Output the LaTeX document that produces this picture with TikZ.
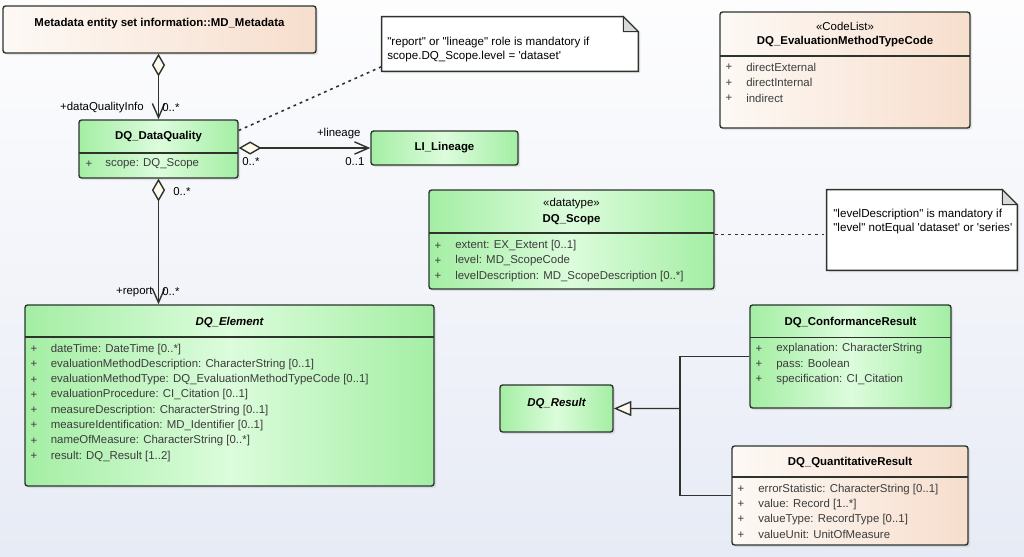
\documentclass[tikz,border=0pt]{standalone}
\usepackage{fontspec}
\setmainfont{Liberation Sans}
\usetikzlibrary{arrows.meta,fit,shadows,calc}

\definecolor{grnA}{HTML}{A4EEA4}
\definecolor{grnB}{HTML}{DCFCDC}
\definecolor{pchA}{HTML}{FDF9F5}
\definecolor{pchB}{HTML}{F7DECD}
\definecolor{bgtop}{HTML}{FDFDFE}
\definecolor{bgbot}{HTML}{E7EBF5}
\definecolor{edge}{HTML}{2C342C}
\definecolor{attrtext}{HTML}{3C3C3C}
\definecolor{cream}{HTML}{FFF9EE}
\definecolor{foldgray}{HTML}{D9D9D9}

\tikzset{
  every node/.style={font=\fontsize{6.5}{8}\selectfont},
  box/.style={draw=edge, line width=0.8pt, rounded corners=1.5pt, inner sep=0pt,
    drop shadow={opacity=0.18, shadow xshift=1.2pt, shadow yshift=-1.2pt}},
  greenbox/.style={box, left color=grnA, right color=grnA, middle color=grnB},
  peachbox/.style={box, left color=pchA, right color=pchB},
  ctitle/.style={inner sep=0pt, font=\fontsize{6.5}{8}\selectfont\bfseries},
  atitle/.style={inner sep=0pt, font=\fontsize{6.5}{8}\selectfont\bfseries\itshape},
  stereo/.style={inner sep=0pt},
  plus/.style={inner sep=0pt, text=attrtext},
  attr/.style={anchor=west, inner sep=0pt, text=attrtext},
  divider/.style={draw=edge, line width=0.8pt},
  role/.style={inner sep=0pt},
  assoc/.style={draw=edge, line width=0.8pt,
    {Diamond[fill=cream, length=13pt, width=7.5pt]}-{Straight Barb[length=8pt, width=7pt]}},
  genline/.style={draw=edge, line width=0.8pt},
  notelink/.style={draw=edge, line width=0.9pt, dash pattern=on 1.6pt off 2.2pt},
  notebox/.style={inner sep=0pt},
  noteshape/.style={draw=edge, line width=0.8pt, fill=white,
    drop shadow={opacity=0.15, shadow xshift=1.2pt, shadow yshift=-1.2pt}},
  notetext/.style={anchor=west, align=left, inner sep=0pt,
    font=\fontsize{6.6}{7.9}\selectfont}
}

\begin{document}
\begin{tikzpicture}[x=0.02cm, y=-0.02cm]
  \useasboundingbox (0,0) rectangle (1024,556);
  \fill[top color=bgtop, bottom color=bgbot] (0,0) rectangle (1024,556);

  \node[peachbox, fit={(3,6) (316,53)}] (meta) {};
  \node[ctitle] (meta-title) at (159.5,24) {Metadata entity set information::MD\_Metadata};

  \node[greenbox, fit={(79,120) (238,178)}] (dq) {};
  \node[ctitle] (dq-title) at (158.5,137) {DQ\_DataQuality};
  \draw[divider] (79,153) -- (238,153);
  \node[plus] (dq-p1) at (89,164) {+};
  \node[attr] (dq-a1) at (105,164) {scope: DQ\_Scope};

  \node[greenbox, fit={(371,131) (518,165)}] (lin) {};
  \node[ctitle] (lin-title) at (lin.center) {LI\_Lineage};

  \node[peachbox, fit={(720,12) (970,128)}] (code) {};
  \node[stereo] (code-st) at (845,26) {«CodeList»};
  \node[ctitle] (code-title) at (845,41.5) {DQ\_EvaluationMethodTypeCode};
  \draw[divider] (720,56) -- (970,56);
  \foreach \txt [count=\i] in {directExternal, directInternal, indirect}{
    \node[plus] (code-p\i) at (729,51.8+15.5*\i) {+};
    \node[attr] (code-a\i) at (746,51.8+15.5*\i) {\txt};
  }

  \node[greenbox, fit={(429,190) (714,289)}] (scope) {};
  \node[stereo] (scope-st) at (571.5,204) {«datatype»};
  \node[ctitle] (scope-title) at (571.5,219.5) {DQ\_Scope};
  \draw[divider] (429,233) -- (714,233);
  \foreach \txt [count=\i] in {extent: EX\_Extent [0..1], level: MD\_ScopeCode,
      levelDescription: MD\_ScopeDescription [0..*]}{
    \node[plus] (scope-p\i) at (438,230.5+15.2*\i) {+};
    \node[attr] (scope-a\i) at (455,230.5+15.2*\i) {\txt};
  }

  \node[greenbox, fit={(25,305) (434,486)}] (elem) {};
  \node[atitle] (elem-title) at (229.5,322.5) {DQ\_Element};
  \draw[divider] (25,337) -- (434,337);
  \foreach \txt [count=\i] in {dateTime: DateTime [0..*],
      evaluationMethodDescription: CharacterString [0..1],
      evaluationMethodType: DQ\_EvaluationMethodTypeCode [0..1],
      evaluationProcedure: CI\_Citation [0..1],
      measureDescription: CharacterString [0..1],
      measureIdentification: MD\_Identifier [0..1],
      nameOfMeasure: CharacterString [0..*],
      result: DQ\_Result [1..2]}{
    \node[plus] (elem-p\i) at (34,333.8+15.3*\i) {+};
    \node[attr] (elem-a\i) at (50.5,333.8+15.3*\i) {\txt};
  }

  \node[greenbox, fit={(500,385) (613,432)}] (res) {};
  \node[atitle] (res-title) at (556.5,403.5) {DQ\_Result};

  \node[greenbox, fit={(750,305) (951,408)}] (conf) {};
  \node[ctitle] (conf-title) at (850.5,322.5) {DQ\_ConformanceResult};
  \draw[divider] (750,337.5) -- (951,337.5);
  \foreach \txt [count=\i] in {explanation: CharacterString, pass: Boolean,
      specification: CI\_Citation}{
    \node[plus] (conf-p\i) at (759,333.8+15.2*\i) {+};
    \node[attr] (conf-a\i) at (776,333.8+15.2*\i) {\txt};
  }

  \node[peachbox, fit={(732,446) (968,545)}] (quant) {};
  \node[ctitle] (quant-title) at (850,462.5) {DQ\_QuantitativeResult};
  \draw[divider] (732,477) -- (968,477);
  \foreach \txt [count=\i] in {errorStatistic: CharacterString [0..1],
      value: Record [1..*], valueType: RecordType [0..1], valueUnit: UnitOfMeasure}{
    \node[plus] (quant-p\i) at (741,473.9+15.2*\i) {+};
    \node[attr] (quant-a\i) at (758,473.9+15.2*\i) {\txt};
  }

  \node[notebox, fit={(382,17) (638,71)}] (note1) {};
  \filldraw[noteshape] (note1.south west) -- (note1.north west)
    -- ($(note1.north east)+(-15,0)$) -- ($(note1.north east)+(0,15)$)
    -- (note1.south east) -- cycle;
  \filldraw[draw=edge, line width=0.6pt, fill=foldgray] ($(note1.north east)+(-15,0)$)
    -- ($(note1.north east)+(-15,15)$) -- ($(note1.north east)+(0,15)$) -- cycle;
  \node[notetext] (note1-text) at (387,49.5)
    {\textquotedbl report\textquotedbl\ or \textquotedbl lineage\textquotedbl\ role is mandatory if\\
     scope.DQ\_Scope.level = \textquotesingle dataset\textquotesingle};

  \node[notebox, fit={(827,190) (1017,270)}] (note2) {};
  \filldraw[noteshape] (note2.south west) -- (note2.north west)
    -- ($(note2.north east)+(-15,0)$) -- ($(note2.north east)+(0,15)$)
    -- (note2.south east) -- cycle;
  \filldraw[draw=edge, line width=0.6pt, fill=foldgray] ($(note2.north east)+(-15,0)$)
    -- ($(note2.north east)+(-15,15)$) -- ($(note2.north east)+(0,15)$) -- cycle;
  \node[notetext] (note2-text) at (833,221.5)
    {\textquotedbl levelDescription\textquotedbl\ is mandatory if\\
     \textquotedbl level\textquotedbl\ notEqual \textquotesingle dataset\textquotesingle\ or \textquotesingle series\textquotesingle};

  \draw[assoc] (meta.south -| dq.north) -- (dq.north);
  \node[role, anchor=east] (dqi-role) at (144,107.3) {+dataQualityInfo};
  \node[role, anchor=west] (dqi-mult) at (162,107.3) {0..*};

  \draw[assoc] (dq.east |- lin.west) -- (lin.west);
  \node[role, anchor=west] (lin-src) at (242,161.7) {0..*};
  \node[role, anchor=west] (lin-role) at (316.7,134) {+lineage};
  \node[role, anchor=west] (lin-mult) at (345,161.2) {0..1};

  \draw[assoc] (dq.south) -- (dq.south |- elem.north);
  \node[role, anchor=west] (rep-src) at (173,191.7) {0..*};
  \node[role, anchor=east] (rep-role) at (153,291.7) {+report};
  \node[role, anchor=west] (rep-mult) at (162,291.7) {0..*};

  \draw[notelink] (dq.13) -- (note1.190);
  \draw[notelink] (scope.2.6) -- (scope.2.6 -| note2.west);

  \coordinate (gen-join) at (680,408.5);
  \draw[genline] (conf.west) -| (gen-join);
  \draw[genline] (quant.west) -| (gen-join);
  \draw[genline, -{Triangle[fill=cream, length=10pt, width=8.5pt]}] (gen-join) -- (res.east);
\end{tikzpicture}
\end{document}
